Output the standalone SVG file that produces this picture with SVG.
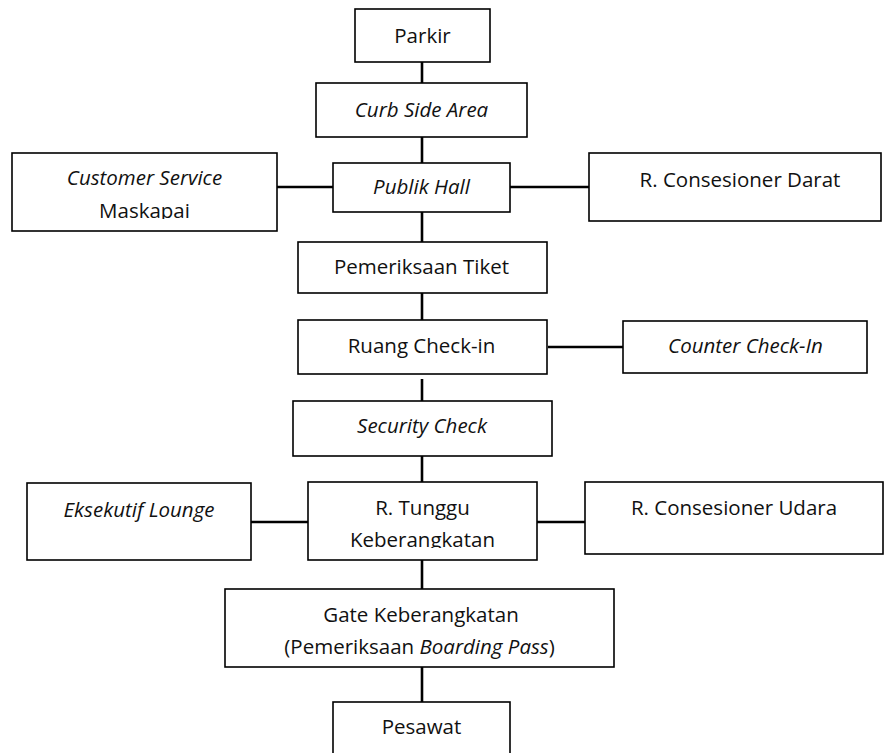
<svg xmlns="http://www.w3.org/2000/svg" width="884" height="753" viewBox="0 0 884 753">
  <style>
    .box { fill: #ffffff; stroke: #000000; stroke-width: 1.6; }
    .lbl { font-family: "Open Sans", "Liberation Sans", sans-serif; font-size: 20.5px; fill: #111111; text-anchor: middle; }
    .it { font-style: italic; }
    .conn line { stroke: #000000; stroke-width: 2.6; }
  </style>
  <defs>
    <clipPath id="clipCS"><rect x="12" y="153" width="265" height="66"/></clipPath>
    <clipPath id="clipRT"><rect x="308" y="482" width="229" height="66"/></clipPath>
  </defs>
  <rect width="884" height="753" fill="#ffffff"/>

  <!-- connectors -->
  <g id="connectors" class="conn">
    <line x1="422" y1="62" x2="422" y2="83"/>
    <line x1="422" y1="137" x2="422" y2="163"/>
    <line x1="277" y1="187" x2="333" y2="187"/>
    <line x1="510" y1="187" x2="589" y2="187"/>
    <line x1="422" y1="212" x2="422" y2="242"/>
    <line x1="422" y1="292" x2="422" y2="320"/>
    <line x1="548" y1="347" x2="623" y2="347"/>
    <line x1="422" y1="379" x2="422" y2="401"/>
    <line x1="422" y1="456" x2="422" y2="482"/>
    <line x1="251" y1="522" x2="308" y2="522"/>
    <line x1="537" y1="522" x2="585" y2="522"/>
    <line x1="422" y1="560" x2="422" y2="589"/>
    <line x1="422" y1="667" x2="422" y2="702"/>
  </g>

  <g id="parkir">
    <rect class="box" x="355" y="9" width="135" height="53"/>
    <text class="lbl" x="422.5" y="43">Parkir</text>
  </g>

  <g id="curb-side-area">
    <rect class="box" x="316" y="83" width="211" height="54"/>
    <text class="lbl it" x="421.5" y="117">Curb Side Area</text>
  </g>

  <g id="customer-service">
    <rect class="box" x="12" y="153" width="265" height="78"/>
    <g clip-path="url(#clipCS)">
      <text class="lbl it" x="144.5" y="185">Customer Service</text>
      <text class="lbl" x="144.5" y="218">Maskapai</text>
    </g>
  </g>

  <g id="publik-hall">
    <rect class="box" x="333" y="163" width="177" height="49"/>
    <text class="lbl it" x="421.5" y="194">Publik Hall</text>
  </g>

  <g id="consesioner-darat">
    <rect class="box" x="589" y="153" width="292" height="68"/>
    <text class="lbl" x="740" y="187">R. Consesioner Darat</text>
  </g>

  <g id="pemeriksaan-tiket">
    <rect class="box" x="298" y="242" width="249" height="51"/>
    <text class="lbl" x="421.5" y="274">Pemeriksaan Tiket</text>
  </g>

  <g id="ruang-check-in">
    <rect class="box" x="298" y="320" width="249" height="54"/>
    <text class="lbl" x="421.5" y="353">Ruang Check-in</text>
  </g>

  <g id="counter-check-in">
    <rect class="box" x="623" y="321" width="244" height="52"/>
    <text class="lbl it" x="745.5" y="353">Counter Check-In</text>
  </g>

  <g id="security-check">
    <rect class="box" x="293" y="401" width="259" height="55"/>
    <text class="lbl it" x="422" y="433">Security Check</text>
  </g>

  <g id="eksekutif-lounge">
    <rect class="box" x="27" y="483" width="224" height="77"/>
    <text class="lbl it" x="139" y="517">Eksekutif Lounge</text>
  </g>

  <g id="ruang-tunggu">
    <rect class="box" x="308" y="482" width="229" height="78"/>
    <g clip-path="url(#clipRT)">
      <text class="lbl" x="422.5" y="515">R. Tunggu</text>
      <text class="lbl" x="422.5" y="547">Keberangkatan</text>
    </g>
  </g>

  <g id="consesioner-udara">
    <rect class="box" x="585" y="482" width="298" height="72"/>
    <text class="lbl" x="734" y="515">R. Consesioner Udara</text>
  </g>

  <g id="gate-keberangkatan">
    <rect class="box" x="225" y="589" width="389" height="78"/>
    <text class="lbl" x="421" y="622">Gate Keberangkatan</text>
    <text class="lbl" x="419.5" y="654">(Pemeriksaan <tspan class="it">Boarding Pass</tspan>)</text>
  </g>

  <g id="pesawat">
    <rect class="box" x="333" y="702" width="177" height="60"/>
    <text class="lbl" x="421.5" y="734">Pesawat</text>
  </g>
</svg>
